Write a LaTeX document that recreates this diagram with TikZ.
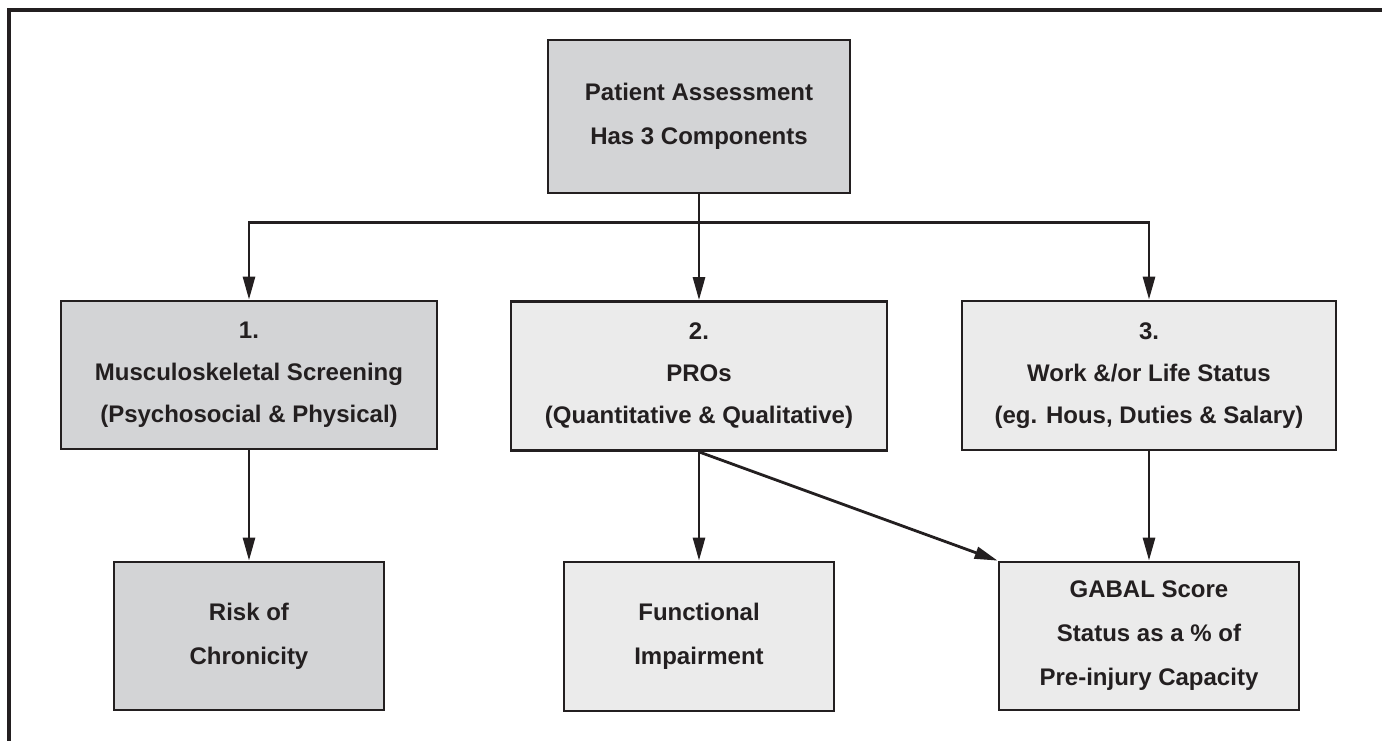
\documentclass[tikz,border=0pt]{standalone}
\usepackage{fontspec}
\setmainfont{Liberation Sans}
\usepackage{tikz}
\usetikzlibrary{arrows.meta}

\definecolor{ink}{HTML}{231F20}
\definecolor{boxdark}{HTML}{D3D4D6}
\definecolor{boxlight}{HTML}{EBEBEB}

\begin{document}
\begin{tikzpicture}[x=1pt,y=-1pt,
    box/.style={draw=ink,line width=2.8pt,inner sep=0pt,align=center,text=ink,
      font=\fontsize{24}{44}\selectfont\bfseries},
    darkbox/.style={box,fill=boxdark},
    lightbox/.style={box,fill=boxlight},
    arr/.style={draw=ink,line width=2.8pt,-{Triangle[length=23pt,width=12pt]}}]
    \useasboundingbox (0,0) rectangle (1382,740);
    \draw[ink,line width=3.5pt] (9,745) -- (9,10) -- (1390,10);

    % top
    \node[darkbox,minimum width=302pt,minimum height=153pt] (top) at (699,116.5)
        {Patient Assessment\\Has 3 Components};

    % components
    \node[darkbox,minimum width=376pt,minimum height=148pt,font=\fontsize{24}{42}\selectfont\bfseries] (msk) at (249,375)
        {1.\\Musculoskeletal Screening\\(Psychosocial \& Physical)};
    \node[lightbox,minimum width=376pt,minimum height=149pt,font=\fontsize{24}{42}\selectfont\bfseries] (pro) at (699,376)
        {2.\\PROs\\(Quantitative \& Qualitative)};
    \node[lightbox,minimum width=374pt,minimum height=149pt,font=\fontsize{24}{42}\selectfont\bfseries] (work) at (1149,375.5)
        {3.\\Work \&/or Life Status\\(eg. Hous, Duties \& Salary)};

    % outcomes
    \node[darkbox,minimum width=270pt,minimum height=148pt] (risk) at (249,636)
        {Risk of\\Chronicity};
    \node[lightbox,minimum width=270pt,minimum height=149pt] (func) at (699,636.5)
        {Functional\\Impairment};
    \node[lightbox,minimum width=300pt,minimum height=148pt] (gabal) at (1149,636)
        {GABAL Score\\Status as a \% of\\Pre-injury Capacity};

    \draw[ink,line width=2.8pt] (top.south) -- ++(0,28) coordinate (split);
    \draw[arr] (split) -| (msk.north);
    \draw[arr] (split) -| (work.north);
    \draw[arr] (top.south) -- (pro.north);
    \draw[arr] (msk.south) -- (risk.north);
    \draw[arr] (pro.south) -- (func.north);
    \draw[arr] (pro.south) -- (gabal.north west);
    \draw[arr] (work.south) -- (gabal.north);
\end{tikzpicture}
\end{document}
